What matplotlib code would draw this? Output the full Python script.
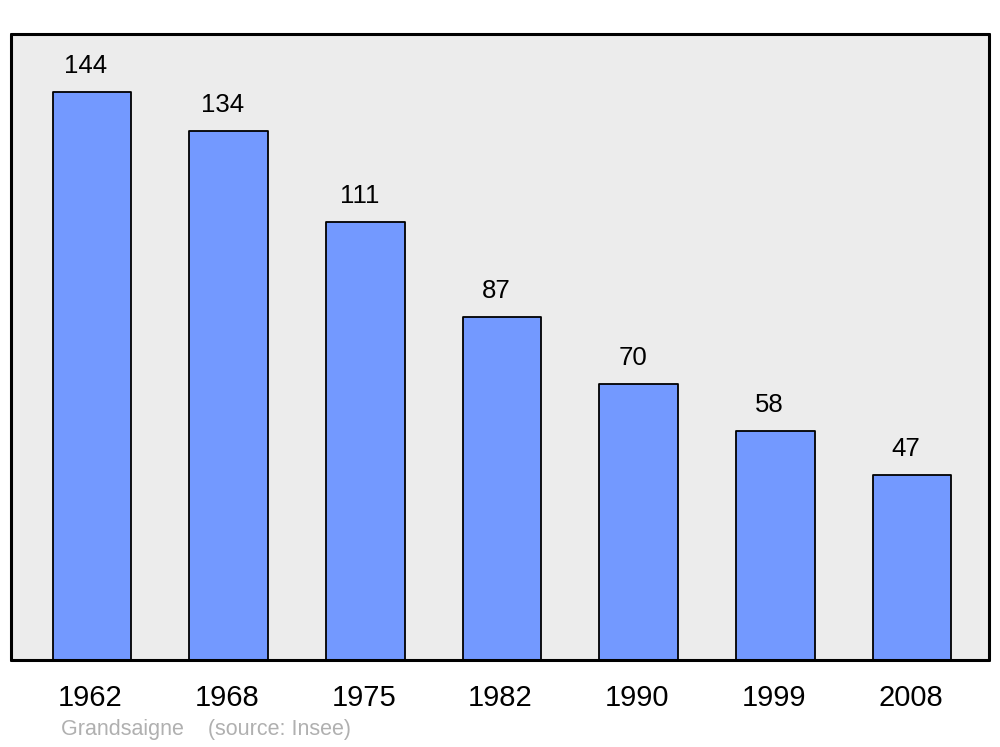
import matplotlib.pyplot as plt

years = ["1962", "1968", "1975", "1982", "1990", "1999", "2008"]
population = [144, 134, 111, 87, 70, 58, 47]

plt.rcParams['font.family'] = ['Liberation Sans', 'DejaVu Sans']

fig = plt.figure(figsize=(10, 7.47), dpi=100)
ax = fig.add_axes([0.011, 1 - 660 / 747, 0.978, 626 / 747])
ax.set_facecolor("#ececec")

x = list(range(len(years)))
bars = ax.bar(x, population, width=0.575, color="#7399ff", edgecolor="black", linewidth=1.3)
for b in bars:
    b.set_joinstyle("round")

for xi, v in zip(x, population):
    ax.text(xi - 0.045, v + 4.8, str(v), ha="center", va="baseline", fontsize=18.5)

ax.set_xlim(-0.593, 6.563)
ax.set_ylim(0, 158.7)
ax.set_yticks([])
ax.set_xticks([xi - 0.012 for xi in x])
ax.set_xticklabels(years, fontsize=21)
ax.tick_params(axis="x", length=0, pad=17)
for s in ax.spines.values():
    s.set_linewidth(2.2)
    s.set_capstyle("round")
    s.set_joinstyle("round")

fig.text(0.061, 0.016, "Grandsaigne    (source: Insee)", fontsize=15.5, color="#b0b0b0")

fig.savefig("out.png", dpi=100)
